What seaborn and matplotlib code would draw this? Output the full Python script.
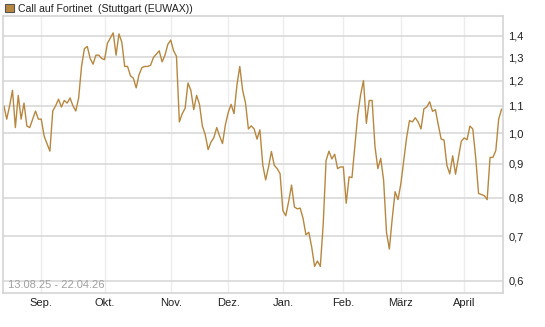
#!/usr/bin/env python3

# plot.py
#
# Price chart for the Fortinet call warrant (Stuttgart / EUWAX), log scale.
import matplotlib
matplotlib.use('Agg')
import matplotlib.pyplot as plt
import matplotlib.ticker as ticker
from matplotlib.patches import Patch
import numpy as np
import pandas as pd
import seaborn as sb

TITLE = 'Call auf Fortinet  (Stuttgart (EUWAX))'
RANGE_LABEL = '13.08.25 - 22.04.26'
START, END = '2025-08-13', '2026-04-22'

# Exchange holidays inside the range (no trading days)
HOLIDAYS = ['2025-12-24', '2025-12-25', '2025-12-26', '2025-12-31',
            '2026-01-01', '2026-04-03', '2026-04-06']

MONTH_LABELS = ['Sep.', 'Okt.', 'Nov.', 'Dez.', 'Jan.', 'Feb.', 'März', 'April']
Y_TICKS = [0.6, 0.7, 0.8, 0.9, 1.0, 1.1, 1.2, 1.3, 1.4]

# Closing prices, one per trading day
PRICES = [
  1.10, 1.05, 1.10, 1.16, 1.02, 1.14, 1.05, 1.11, 1.025, 1.02,
  1.05, 1.08, 1.05, 1.05, 0.99, 0.965, 0.94, 1.08, 1.10, 1.125,
  1.095, 1.12, 1.11, 1.13, 1.10, 1.08, 1.13, 1.26, 1.34, 1.35,
  1.295, 1.27, 1.31, 1.31, 1.295, 1.29,
  1.365, 1.39, 1.415, 1.31, 1.41, 1.37, 1.26, 1.26, 1.22, 1.21,
  1.17, 1.225, 1.255, 1.26, 1.26, 1.265, 1.30, 1.315, 1.33, 1.28,
  1.31, 1.36, 1.38, 1.33, 1.305, 1.04, 1.07, 1.09, 1.19, 1.16,
  1.085, 1.14, 1.105, 1.025,
  0.995, 0.945, 0.97, 0.985, 1.02, 0.99, 0.965, 1.03, 1.075, 1.105,
  1.07, 1.18, 1.26, 1.16, 1.11, 1.015, 1.026, 1.015, 0.98, 1.012,
  0.896, 0.851, 0.89, 0.939, 0.895, 0.885, 0.87, 0.765, 0.752, 0.79,
  0.836, 0.775, 0.77, 0.772, 0.745,
  0.704, 0.71, 0.675, 0.631, 0.643, 0.631, 0.73, 0.91, 0.94, 0.915,
  0.93, 0.885, 0.89, 0.89, 0.785, 0.86, 0.858, 0.955, 1.065, 1.142,
  1.20, 1.035, 1.12, 1.12, 0.955, 0.885, 0.917, 0.85, 0.71, 0.67,
  0.745, 0.817, 0.795, 0.84, 0.91,
  0.985, 1.045, 1.04, 1.055, 1.04, 1.015, 1.088, 1.095, 1.115, 1.079,
  1.085, 1.03, 0.98, 0.977, 0.895, 0.869, 0.925, 0.868, 0.92, 0.973,
  0.984, 0.978, 1.025, 1.015, 0.92, 0.812, 0.809, 0.806, 0.795, 0.92,
  0.92, 0.942, 1.05, 1.087,
]

LINE_COLOR = '#b8873f'
HGRID_COLOR = '#d9d9d9'
VGRID_COLOR = '#ededed'
FRAME_COLOR = '#d4d4d4'


def trading_days():
  days = pd.bdate_range(START, END)
  return days[~days.isin(pd.to_datetime(HOLIDAYS))]


def plot(filename):
  days = trading_days()
  df = pd.DataFrame({'pos': np.arange(len(days)), 'price': PRICES[:len(days)]})

  # Month ticks sit on the first trading day of each month
  ticks = [i for i in range(1, len(days)) if days[i].month != days[i - 1].month]

  sb.set_style('white')
  plt.rcParams['font.family'] = ['Liberation Sans', 'DejaVu Sans']
  figure = plt.figure(figsize=(5.45, 3.27), dpi=100)
  axis = figure.add_axes([3 / 545, 1 - 293 / 327, 500 / 545, 277 / 327])

  sb.lineplot(data=df, x='pos', y='price', color=LINE_COLOR, linewidth=1.0, ax=axis)

  # Log scale with fixed German-formatted ticks
  axis.set_yscale('log')
  axis.set_ylim(0.5756, 1.50)
  axis.set_xlim(-0.3, len(days) - 0.5)
  axis.yaxis.set_major_locator(ticker.FixedLocator(Y_TICKS))
  axis.yaxis.set_minor_locator(ticker.NullLocator())
  axis.yaxis.set_major_formatter(ticker.FuncFormatter(lambda v, p: '{:.1f}'.format(v).replace('.', ',')))
  axis.yaxis.tick_right()
  axis.set_xticks(ticks[:len(MONTH_LABELS)])
  axis.set_xticklabels(MONTH_LABELS)
  axis.tick_params(axis='y', length=0, pad=4, labelsize=8, labelcolor='#222222')
  axis.tick_params(axis='x', length=0, pad=3.5, labelsize=8, labelcolor='#222222')
  axis.set_xlabel('')
  axis.set_ylabel('')

  # Grid and frame
  axis.yaxis.grid(True, color=HGRID_COLOR, linewidth=1.2)
  axis.xaxis.grid(True, color=VGRID_COLOR, linewidth=1.0)
  axis.set_axisbelow(True)
  for spine in axis.spines.values():
    spine.set_visible(True)
    spine.set_color(FRAME_COLOR)
    spine.set_linewidth(1.2)

  axis.text(0.011, 0.012, RANGE_LABEL, transform=axis.transAxes, fontsize=8,
            color='#a0a0a0', ha='left', va='bottom')

  # Legend in the top left corner
  handle = Patch(facecolor=LINE_COLOR, edgecolor='#555555', linewidth=0.8, label=TITLE)
  figure.legend(handles=[handle], loc='upper left', bbox_to_anchor=(-0.008, 1.018),
                frameon=False, fontsize=7.6, handlelength=0.8, handleheight=0.8,
                handletextpad=0.4, labelcolor='#222222')

  plt.savefig(filename, dpi=100)
  plt.close()


if __name__ == '__main__':
  plot('out.png')
